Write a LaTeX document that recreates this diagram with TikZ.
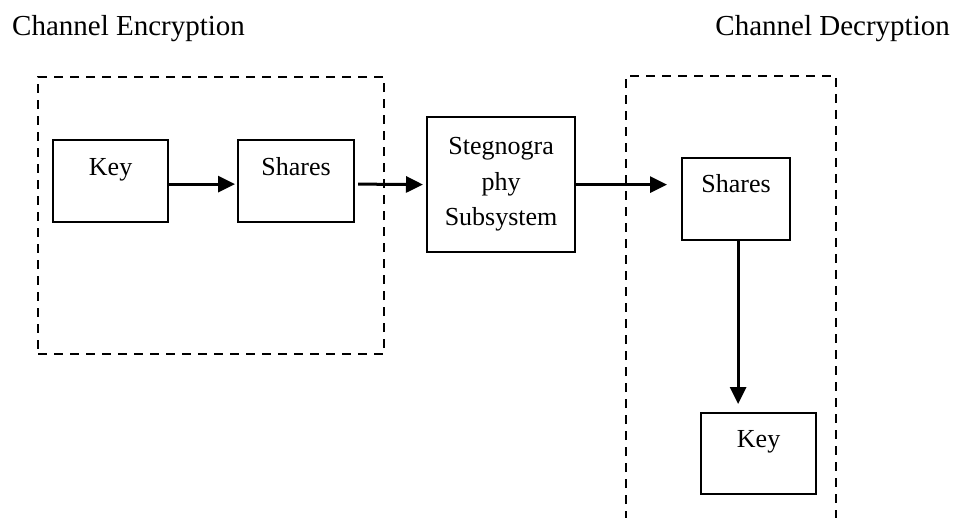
\documentclass[tikz,border=0pt]{standalone}
\usepackage{fontspec}
\setmainfont{Liberation Serif}
\usetikzlibrary{arrows.meta}

\tikzset{
  blk/.style={draw, line width=2.2pt, rectangle, inner sep=0pt, anchor=north west},
  blktext/.style={font=\fontsize{26}{35.5}\selectfont},
  grp/.style={draw, line width=2.2pt, dash pattern=on 9pt off 7pt},
  arr/.style={line width=3pt, -{Triangle[length=17pt,width=16pt]}},
  title/.style={font=\fontsize{29}{34}\selectfont, inner sep=0pt}
}

\begin{document}
\begin{tikzpicture}[x=1pt, y=-1pt]
  \useasboundingbox (0,0) rectangle (955,518);

  % headings
  \node[title, anchor=base west] (enctitle) at (12,36) {Channel Encryption};
  \node[title, anchor=base east] (dectitle) at (950,36) {Channel Decryption};

  % encryption side group
  \node[grp, rectangle, anchor=north west, minimum width=346pt, minimum height=277pt, inner sep=0pt] (encgrp) at (37,76) {};
  % decryption side group, running off the bottom edge
  \draw[grp] (626,520) -- (626,76) -- (836,76) -- (836,520);

  % blocks
  \node[blk, minimum width=115pt, minimum height=82pt,
        label={[blktext, anchor=base, yshift=-37pt]north:Key}] (keyenc) at (52,139) {};
  \node[blk, minimum width=116pt, minimum height=82pt,
        label={[blktext, anchor=base, yshift=-37pt]north:Shares}] (shenc) at (237,139) {};
  \node[blk, minimum width=148pt, minimum height=135pt,
        label={[blktext, align=center, anchor=north, yshift=-18pt]north:Stegnogra\\phy\\Subsystem}] (steg) at (426,116) {};
  \node[blk, minimum width=108pt, minimum height=82pt,
        label={[blktext, anchor=base, yshift=-36pt]north:Shares}] (shdec) at (681,157) {};
  \node[blk, minimum width=115pt, minimum height=81pt,
        label={[blktext, anchor=base, yshift=-35pt]north:Key}] (keydec) at (700,412) {};

  % flow
  \draw[arr, shorten >=2pt] ([yshift=-3pt]keyenc.east) -- ([yshift=-3pt]shenc.west);
  \draw[arr, shorten <=3pt, shorten >=3pt] ([yshift=-3pt]shenc.east) -- (steg.west);
  \draw[arr, shorten >=14pt] (steg.east) -- (steg.east -| shdec.west);
  \draw[arr, shorten >=8pt] ([xshift=2pt]shdec.south) -- ([xshift=2pt]shdec.south |- keydec.north);
\end{tikzpicture}
\end{document}
